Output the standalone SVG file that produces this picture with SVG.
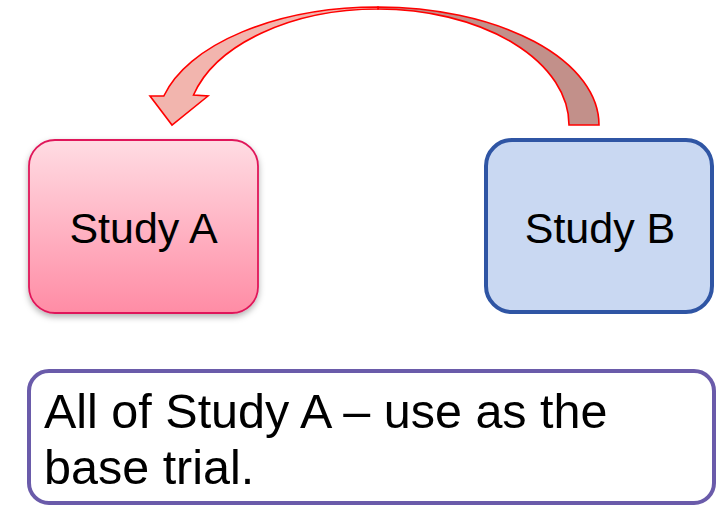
<svg xmlns="http://www.w3.org/2000/svg" width="721" height="506" viewBox="0 0 721 506">
<defs>
<linearGradient id="gA" x1="0" y1="0" x2="0" y2="1">
<stop offset="0" stop-color="#FFDCE3"/>
<stop offset="1" stop-color="#FF8CA5"/>
</linearGradient>
<filter id="sh" x="-10%" y="-10%" width="120%" height="130%">
<feDropShadow dx="0" dy="3" stdDeviation="3" flood-color="#000" flood-opacity="0.3"/>
</filter>
</defs>
<style>
.lbl{font-family:"Liberation Sans",Arial,sans-serif;fill:#000}
.arr{stroke:#FF0000;stroke-width:1.6;stroke-linejoin:miter}
</style>
<g id="connectors">
<path class="arr" fill="#C2908A" d="M378 7 A221 118 0 0 1 599 125 L569 125 A191 116 0 0 0 378 9 Z"/>
<path class="arr" fill="#F2B5AE" d="M378 7 A221 118 0 0 0 163.8 96 L150 96 L172 125 L208 96 L193.5 95 A191 116 0 0 1 378 9 Z"/>
</g>
<g id="studyA">
<rect x="29" y="140" width="229" height="173" rx="26" fill="url(#gA)" stroke="#E0185A" stroke-width="1.8" filter="url(#sh)"/>
<text class="lbl" x="143.5" y="243" font-size="43" text-anchor="middle">Study A</text>
</g>
<g id="studyB">
<rect x="486" y="140" width="226" height="172" rx="26" fill="#C9D8F2" stroke="#2F55A4" stroke-width="4"/>
<text class="lbl" x="600" y="243" font-size="43" text-anchor="middle">Study B</text>
</g>
<g id="note">
<rect x="29" y="371" width="685" height="132" rx="20" fill="#FFFFFF" stroke="#6A5BAA" stroke-width="4"/>
<text class="lbl" x="44" y="428" font-size="48.5">All of Study A – use as the</text>
<text class="lbl" x="44" y="484" font-size="48.5">base trial.</text>
</g>
</svg>
